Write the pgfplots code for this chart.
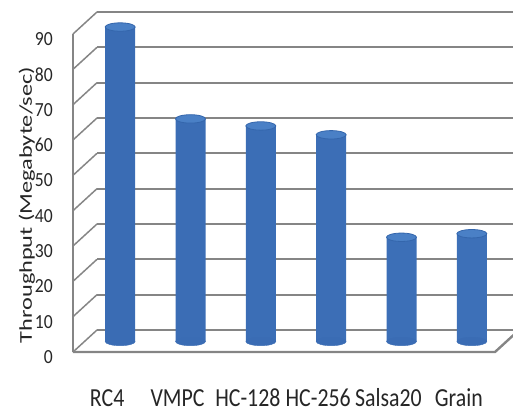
\documentclass[border=0pt]{standalone}
\usepackage{pgfplots}
\usepackage{pgfplotstable}
\pgfplotsset{compat=1.18}
\usepackage{fontspec}
\newfontfamily\ytfont[FakeStretch=0.88]{Carlito}
\newfontfamily\xtfont[FakeStretch=0.84]{Carlito}
\newfontfamily\ylfont[FakeStretch=1.35]{Carlito}
\definecolor{gridc}{HTML}{858585}
\definecolor{barL}{HTML}{3A6CB4}
\definecolor{barM}{HTML}{6399DC}
\definecolor{barR}{HTML}{3D70B8}
\definecolor{barTop}{HTML}{4A80C6}
\definecolor{barEdge}{HTML}{3466AC}
\definecolor{txt}{HTML}{262626}

\pgfplotstableread{
x y
0 89
1 63
2 61
3 58.5
4 29.5
5 30.5
}\thrtable

\begin{document}
\begin{tikzpicture}
\begin{axis}[
  at={(97pt,82pt)}, anchor=south west,
  scale only axis, width=422pt, height=318pt,
  xmin=-0.5, xmax=5.5, ymin=0, ymax=90,
  clip=false,
  axis line style={draw=none},
  major tick length=0pt,
  xtick={0,...,5},
  xticklabels={RC4,VMPC,HC-128,HC-256,Salsa20,Grain},
  ytick={0,10,...,90},
  ymajorgrids,
  grid style={gridc, line width=1.8pt},
  /pgf/number format/assume math mode=true,
  xticklabel style={font=\xtfont\fontsize{26}{26}\selectfont, text=txt,
    anchor=base, inner sep=0pt, xshift=-25pt, yshift=-76pt},
  yticklabel style={font=\ytfont\fontsize{20}{20}\selectfont, text=txt,
    anchor=east, inner sep=0pt, xshift=-44pt, yshift=-27pt},
  ylabel={Throughput (Megabyte/sec)},
  every axis y label/.style={at={(axis description cs:-0.166,0.393)},
    rotate=90, anchor=center, text=txt,
    font=\ylfont\fontsize{18}{18}\selectfont},
]
% side wall diagonals
\draw[gridc, line width=1.5pt] (axis cs:-0.5,0)  -- ([shift={(-24pt,-22pt)}]axis cs:-0.5,0);
\draw[gridc, line width=1.5pt] (axis cs:-0.5,10) -- ([shift={(-24pt,-22pt)}]axis cs:-0.5,10);
\draw[gridc, line width=1.5pt] (axis cs:-0.5,20) -- ([shift={(-24pt,-22pt)}]axis cs:-0.5,20);
\draw[gridc, line width=1.5pt] (axis cs:-0.5,30) -- ([shift={(-24pt,-22pt)}]axis cs:-0.5,30);
\draw[gridc, line width=1.5pt] (axis cs:-0.5,40) -- ([shift={(-24pt,-22pt)}]axis cs:-0.5,40);
\draw[gridc, line width=1.5pt] (axis cs:-0.5,50) -- ([shift={(-24pt,-22pt)}]axis cs:-0.5,50);
\draw[gridc, line width=1.5pt] (axis cs:-0.5,60) -- ([shift={(-24pt,-22pt)}]axis cs:-0.5,60);
\draw[gridc, line width=1.5pt] (axis cs:-0.5,70) -- ([shift={(-24pt,-22pt)}]axis cs:-0.5,70);
\draw[gridc, line width=1.5pt] (axis cs:-0.5,80) -- ([shift={(-24pt,-22pt)}]axis cs:-0.5,80);
\draw[gridc, line width=1.5pt] (axis cs:-0.5,90) -- ([shift={(-24pt,-22pt)}]axis cs:-0.5,90);
% side wall front edge
\draw[gridc, line width=1.5pt] ([shift={(-24pt,-22pt)}]axis cs:-0.5,0) -- ([shift={(-24pt,-22pt)}]axis cs:-0.5,90);
% floor
\draw[gridc, line width=2.4pt, line join=round]
  ([shift={(-24pt,-22pt)}]axis cs:-0.5,0) -- ([shift={(-24pt,-22pt)}]axis cs:5.5,0) -- (axis cs:5.5,0);
% cylinder bottoms
\addplot[only marks, mark=*, mark size=15pt, color=barL,
  mark options={yscale=0.28, fill=barL, draw=barL},
  xshift=-12pt, yshift=-11.5pt] table[x=x, y expr=0] {\thrtable};
% cylinder bodies
\addplot[ybar, bar width=30pt, bar shift=0pt, draw=none,
  left color=barL, middle color=barM, right color=barR,
  xshift=-12pt, yshift=-11.5pt] table[x=x, y=y] {\thrtable};
% cylinder tops
\addplot[only marks, mark=*, mark size=15pt, color=barEdge,
  mark options={yscale=0.28, fill=barTop, draw=barEdge, line width=0.8pt},
  xshift=-12pt, yshift=-11.5pt] table[x=x, y=y] {\thrtable};
\end{axis}
\pgfresetboundingbox
\path[use as bounding box] (0,0) rectangle (513pt,412pt);
\end{tikzpicture}
\end{document}
